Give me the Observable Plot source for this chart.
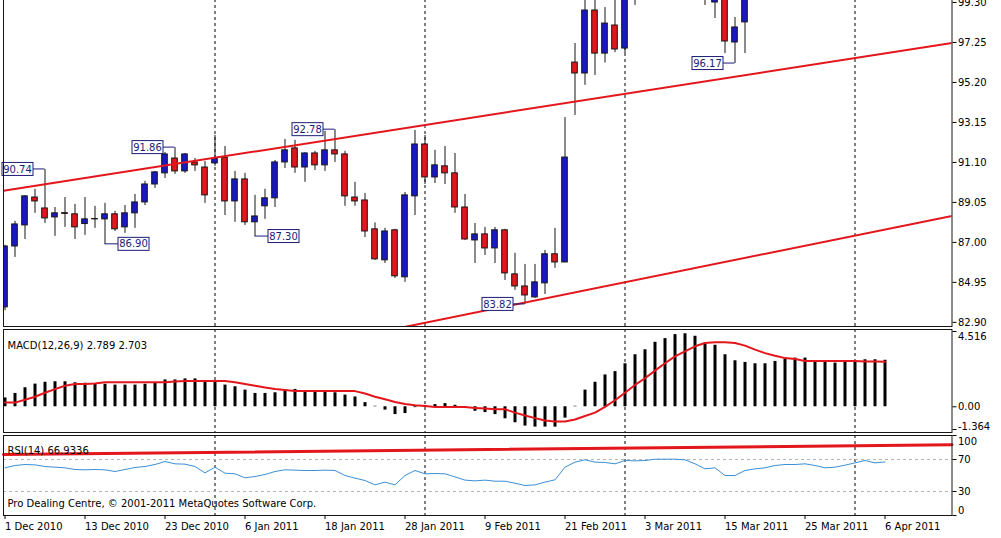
<!DOCTYPE html>
<html><head><meta charset="utf-8">
<script src="https://cdn.jsdelivr.net/npm/d3@7"></script>
<script src="https://cdn.jsdelivr.net/npm/@observablehq/plot@0.6"></script>
<style>
html,body{margin:0;padding:0;background:#fff;}
#chart{position:relative;width:1001px;height:538px;overflow:hidden;background:#fff;}
#chart svg{position:absolute;left:0;}
</style>
</head><body><div id="chart"></div>
<script>
// ---------- data ----------
const dateTickIdx = [0, 8, 16, 24, 32, 40, 48, 56, 64, 72, 80, 88];
const dateLabels = ["1 Dec 2010","13 Dec 2010","23 Dec 2010","6 Jan 2011","18 Jan 2011","28 Jan 2011","9 Feb 2011","21 Feb 2011","3 Mar 2011","15 Mar 2011","25 Mar 2011","6 Apr 2011"];
const monthStartIdx = [21, 42, 62, 85];
const priceTicks = [82.90, 84.95, 87.00, 89.05, 91.10, 93.15, 95.20, 97.25, 99.30];

const opens = [83.67,86.79,87.87,89.30,88.74,88.28,88.50,88.44,87.94,88.20,88.18,88.44,87.77,88.49,89.05,89.97,90.54,91.30,90.64,91.10,
90.84,91.05,91.35,89.10,90.23,88.03,88.85,89.26,91.10,91.82,90.84,91.56,90.95,91.72,91.51,89.30,89.15,87.67,86.08,87.62,
85.21,89.36,92.02,90.33,90.90,90.54,88.79,87.10,87.41,86.69,87.62,85.36,84.74,84.18,84.90,86.39,85.97,96.22,95.66,98.89,
96.68,98.12,96.94,100.30,null,null,null,null,null,null,99.90,99.30,100.00,97.25,98.28];
const highs = [86.85,88.08,89.40,89.72,90.74,88.79,89.30,88.95,89.30,88.85,89.00,88.59,88.89,89.46,90.13,90.64,91.61,91.86,91.56,91.30,
91.15,92.48,91.92,90.64,90.54,89.41,89.72,91.20,92.28,92.23,91.60,91.67,92.70,92.78,91.67,90.08,89.51,88.00,87.72,87.67,
89.56,92.74,92.48,91.72,91.92,91.56,89.46,87.97,87.77,87.77,87.67,86.44,85.87,85.87,86.59,87.72,93.40,97.20,99.80,99.90,
99.04,99.60,100.60,100.80,null,null,null,null,null,null,100.90,100.50,100.30,98.53,100.40];
const lows = [83.50,86.23,87.15,88.49,87.97,87.31,87.77,87.15,87.36,87.72,86.90,87.56,87.46,87.72,88.89,89.77,90.28,90.49,90.54,90.64,
89.00,90.90,88.38,88.03,87.87,87.30,88.18,88.79,90.79,90.54,90.08,90.69,90.64,91.10,88.85,88.85,87.25,86.08,85.92,85.15,
84.95,88.38,89.97,90.02,89.97,88.49,87.10,85.92,86.33,85.92,85.05,84.54,83.82,84.13,84.33,85.67,85.97,93.51,95.05,95.56,
96.20,96.73,96.68,99.15,null,null,null,null,null,null,99.15,98.48,96.68,96.17,96.68];
const closes = [86.79,87.92,89.36,89.10,88.23,88.49,88.46,87.77,88.18,88.18,88.44,87.67,88.49,89.05,89.97,90.59,91.51,90.64,91.51,90.95,
89.41,91.30,89.10,90.23,88.03,88.33,89.26,91.10,91.72,90.84,91.56,90.95,91.72,91.51,89.36,89.10,87.56,86.13,87.56,85.26,
89.41,92.02,90.33,90.95,90.54,88.79,87.15,87.41,86.69,87.62,85.41,84.74,84.28,84.95,86.39,85.97,91.35,95.66,98.89,96.68,
98.22,96.89,100.20,99.80,null,null,null,null,null,null,100.50,100.20,97.30,98.02,100.00];

const pivotIdx  = [4, 17, 33, 10, 25, 52, 73];
const pivotVal  = [90.74, 91.86, 92.78, 86.90, 87.30, 83.82, 96.17];
const pivotSide = ["left","left","left","right","right","left","left"];

const upperChannel = [{i: -0.15, p: 89.65}, {i: 94.7, p: 97.23}];
const lowerChannel = [{i: 38, p: 82.46}, {i: 94.7, p: 88.36}];

const macdHist = [0.53,0.80,1.14,1.36,1.47,1.50,1.50,1.44,1.41,1.36,1.35,1.30,1.30,1.30,1.35,1.41,1.61,1.61,1.67,1.67,
1.55,1.50,1.30,1.20,1.00,0.80,0.80,0.84,1.00,1.04,0.90,0.90,0.90,0.84,0.70,0.59,0.25,0.03,-0.20,-0.47,
-0.41,-0.05,0.08,0.13,0.19,0.09,-0.03,-0.27,-0.35,-0.47,-0.72,-0.96,-1.16,-1.22,-1.22,-1.22,-0.68,0.03,1.00,1.47,
1.91,2.11,2.58,3.12,3.42,3.87,4.09,4.33,4.38,4.23,3.83,3.69,3.12,2.76,2.66,2.58,2.58,2.72,2.86,2.92,
2.92,2.76,2.68,2.62,2.66,2.66,2.82,2.82,2.79];
const macdSignal = [0.25,0.25,0.42,0.60,0.84,1.06,1.26,1.36,1.36,1.40,1.47,1.47,1.47,1.47,1.47,1.47,1.47,1.51,1.55,1.55,
1.55,1.55,1.55,1.47,1.36,1.26,1.16,1.06,1.00,0.94,0.94,0.94,0.94,0.94,0.94,0.94,0.80,0.60,0.45,0.29,
0.17,0.09,0.05,-0.01,-0.01,-0.01,-0.02,-0.07,-0.11,-0.15,-0.15,-0.35,-0.52,-0.68,-0.82,-0.88,-0.88,-0.76,-0.55,-0.35,
-0.01,0.39,0.84,1.31,1.71,2.17,2.61,3.02,3.32,3.63,3.83,3.87,3.87,3.83,3.67,3.43,3.22,3.06,2.92,2.86,
2.74,2.74,2.74,2.74,2.74,2.74,2.72,2.71,2.70];
const macdTicks = [4.516, 0, -1.364];
const macdTickLabels = ["4.516", "0.00", "-1.364"];
const macdTitle = "MACD(12,26,9) 2.789 2.703";

const rsi = [59.6,62.5,63.75,63.3,61.25,60.4,59.6,57.5,57.1,57.5,57.1,55.0,57.5,60.0,61.25,63.75,67.5,64.6,64.2,61.25,
53.3,60.4,52.9,52.1,47.1,48.75,51.25,55.0,57.1,56.7,56.25,56.25,56.7,56.25,50.0,46.7,43.75,38.3,41.7,38.3,
50.0,56.25,52.1,52.5,52.1,48.3,44.2,43.3,44.2,42.9,42.9,40.4,37.5,38.3,41.7,44.6,60.4,66.7,69.6,66.7,
66.25,64.6,68.75,68.3,68.75,70.4,70.4,70.4,69.6,64.6,58.3,59.6,50.0,50.0,56.25,58.3,59.6,62.5,63.75,63.75,
64.6,62.5,59.6,60.4,62.9,65.8,68.75,65.8,66.93];
const rsiTrend = [{i: -0.15, v: 76.25}, {i: 94.7, v: 88.4}];
const rsiLevels = [70, 30];
const rsiTicks = [100, 70, 30, 0];
const rsiTitle = "RSI(14) 66.9336";
const copyright = "Pro Dealing Centre, \u00A9 2001-2011 MetaQuotes Software Corp.";

// ---------- derived tables ----------
const candles = d3.range(opens.length).filter(i => opens[i] != null)
  .map(i => ({i, o: opens[i], h: highs[i], l: lows[i], c: closes[i]}));
const macdRows = macdHist.map((h, i) => ({i, h, s: macdSignal[i]}));
const rsiRows = rsi.map((v, i) => ({i, v}));
const macdAxis = macdTicks.map((v, k) => ({v, t: macdTickLabels[k]}));

// ---------- styles ----------
const W = 1001, ML = 3, MR = 49.5;
const RED = "#e3161b", BLUE = "#1818c8", INK = "#161616", NAVY = "#1c1c78";
const style = {fontFamily: "'DejaVu Sans', Tahoma, sans-serif", fontSize: "10px", background: "#fff", color: "#000"};
const xOpt = {domain: [-0.15, 94.7], axis: null, label: null};
const seps = () => Plot.ruleX(monthStartIdx, {stroke: "#000", strokeDasharray: "3,3", strokeWidth: 1});

function pivotLabels(index, scales) {
  const g = d3.create("svg:g").attr("font-size", 10).attr("font-family", "'DejaVu Sans', Tahoma, sans-serif");
  pivotIdx.forEach((bar, k) => {
    const cx = scales.x(bar), cy = scales.y(pivotVal[k]);
    const left = pivotSide[k] === "left";
    const w = 31, h = 13, gap = left ? 11.5 : 13.5;
    const bx = left ? cx - gap - w : cx + gap;
    g.append("line").attr("x1", left ? bx + w : bx).attr("x2", cx)
      .attr("y1", cy).attr("y2", cy).attr("stroke", NAVY);
    g.append("rect").attr("x", bx).attr("y", cy - h / 2).attr("width", w).attr("height", h)
      .attr("fill", "#fff").attr("stroke", NAVY);
    g.append("text").attr("x", bx + w / 2).attr("y", cy).attr("dy", "0.36em")
      .attr("text-anchor", "middle").attr("fill", NAVY).text(pivotVal[k].toFixed(2));
  });
  return g.node();
}

const body = (d) => ({x1: d => d.i - 0.28, x2: d => d.i + 0.28, y1: "o", y2: "c", stroke: INK, strokeWidth: 1, clip: true});

// ---------- main price panel ----------
const mainPlot = Plot.plot({
  width: W, height: 330, marginTop: 2, marginBottom: 1, marginLeft: ML, marginRight: MR,
  x: xOpt,
  y: {domain: [82.6875, 99.45375], label: null},
  style,
  marks: [
    seps(),
    Plot.ruleX(candles, {x: "i", y1: "l", y2: "h", stroke: INK, strokeWidth: 1, clip: true}),
    Plot.rect(candles.filter(d => d.c >= d.o), {...body(), fill: BLUE}),
    Plot.rect(candles.filter(d => d.c < d.o), {...body(), fill: RED}),
    Plot.line(upperChannel, {x: "i", y: "p", stroke: RED, strokeWidth: 2, clip: true}),
    Plot.line(lowerChannel, {x: "i", y: "p", stroke: RED, strokeWidth: 2, clip: true}),
    pivotLabels,
    Plot.frame({stroke: INK}),
    Plot.axisY({anchor: "right", ticks: priceTicks, tickFormat: d3.format(".2f"), tickSize: 4, tickPadding: 2, label: null})
  ]
});

// ---------- MACD panel ----------
const macdPlot = Plot.plot({
  width: W, height: 106, marginTop: 2, marginBottom: 1, marginLeft: ML, marginRight: MR,
  x: xOpt,
  y: {domain: [-1.364, 4.516], range: [102, 4], label: null},
  style,
  marks: [
    seps(),
    Plot.ruleX(macdRows, {x: "i", y1: 0, y2: "h", stroke: "#000", strokeWidth: 3}),
    Plot.line(macdRows, {x: "i", y: "s", stroke: RED, strokeWidth: 2}),
    Plot.text([macdTitle], {frameAnchor: "top-left", textAnchor: "start", dx: 4, dy: 12, fill: "#000"}),
    Plot.frame({stroke: INK}),
    Plot.axisY({anchor: "right", ticks: macdTicks, tickSize: 4, tickFormat: () => "", label: null}),
    Plot.text(macdAxis.filter(d => d.v === d3.max(macdTicks)), {y: "v", text: "t", frameAnchor: "right", textAnchor: "start", dx: 6, lineAnchor: "top", dy: 1}),
    Plot.text(macdAxis.filter(d => d.v === 0), {y: "v", text: "t", frameAnchor: "right", textAnchor: "start", dx: 6}),
    Plot.text(macdAxis.filter(d => d.v === d3.min(macdTicks)), {y: "v", text: "t", frameAnchor: "right", textAnchor: "start", dx: 6, lineAnchor: "bottom"})
  ]
});

// ---------- RSI panel + date axis ----------
const rsiPlot = Plot.plot({
  width: W, height: 105, marginTop: 2, marginBottom: 23, marginLeft: ML, marginRight: MR,
  x: {domain: xOpt.domain, label: null},
  y: {domain: [0, 100], label: null},
  style,
  marks: [
    seps(),
    Plot.ruleY(rsiLevels, {stroke: "#b4b4b4", strokeDasharray: "3,3"}),
    Plot.line(rsiTrend, {x: "i", y: "v", stroke: RED, strokeWidth: 3}),
    Plot.line(rsiRows, {x: "i", y: "v", stroke: "#3b8fd6", strokeWidth: 1}),
    Plot.text([rsiTitle], {frameAnchor: "top-left", textAnchor: "start", dx: 4, dy: 11.7, fill: "#000"}),
    Plot.text([copyright], {frameAnchor: "bottom-left", textAnchor: "start", dx: 4, dy: -8.3, fill: "#000"}),
    Plot.frame({stroke: INK}),
    Plot.axisY({anchor: "right", ticks: rsiTicks, tickSize: 4, tickFormat: () => "", label: null}),
    Plot.text(rsiTicks.filter(v => v === 100), {y: d => d, text: d => String(d), frameAnchor: "right", textAnchor: "start", dx: 6, lineAnchor: "top", dy: 2}),
    Plot.text(rsiTicks.filter(v => v !== 100 && v !== 0), {y: d => d, text: d => String(d), frameAnchor: "right", textAnchor: "start", dx: 6}),
    Plot.text(rsiTicks.filter(v => v === 0), {y: d => d, text: d => String(d), frameAnchor: "right", textAnchor: "start", dx: 6, lineAnchor: "bottom", dy: -2}),
    Plot.axisX({anchor: "bottom", ticks: dateTickIdx, tickFormat: d => dateLabels[dateTickIdx.indexOf(d)], tickSize: 4, tickPadding: 3, textAnchor: "start", label: null})
  ]
});

const root = document.getElementById("chart");
[[mainPlot, -3], [macdPlot, 327], [rsiPlot, 433]].forEach(([svg, top]) => {
  svg.style.top = top + "px";
  root.appendChild(svg);
});
</script>
</body></html>
